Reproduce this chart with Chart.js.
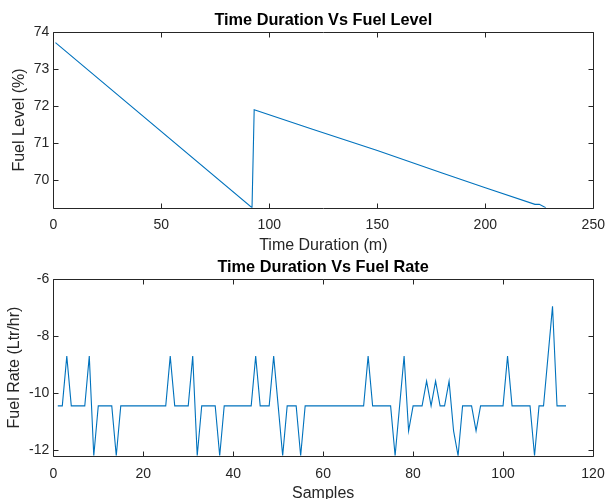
<!DOCTYPE html>
<html>
<head>
<meta charset="utf-8">
<script src="https://cdn.jsdelivr.net/npm/chart.js@4"></script>
<style>
  html, body { margin: 0; padding: 0; background: #fff; overflow: hidden; }
  #wrap { position: relative; width: 606px; height: 499px; }
  canvas { position: absolute; left: 0; top: 0; }
</style>
</head>
<body>
<div id="wrap">
  <canvas id="levelChart" width="606" height="510"></canvas>
  <canvas id="rateChart" width="606" height="510"></canvas>
</div>
<script>
// Fuel level against elapsed time (minutes)
const timeMin   = [1, 92, 93, 120, 150, 180, 200, 223, 225, 228];
const fuelLevel = [73.72, 69.24, 71.9, 71.37, 70.79, 70.18, 69.78, 69.33, 69.33, 69.24];
const timeTicks  = [0, 50, 100, 150, 200, 250];
const levelTicks = [70, 71, 72, 73, 74];

// Fuel rate for each sample (1..114)
const fuelRate = [
  -10.45, -10.45, -8.7, -10.45, -10.45, -10.45, -10.45, -8.7, -12.2, -10.45,
  -10.45, -10.45, -10.45, -12.2, -10.45, -10.45, -10.45, -10.45, -10.45, -10.45,
  -10.45, -10.45, -10.45, -10.45, -10.45, -8.7, -10.45, -10.45, -10.45, -10.45,
  -8.7, -12.2, -10.45, -10.45, -10.45, -10.45, -12.2, -10.45, -10.45, -10.45,
  -10.45, -10.45, -10.45, -10.45, -8.7, -10.45, -10.45, -10.45, -8.7, -10.45,
  -12.2, -10.45, -10.45, -10.45, -12.2, -10.45, -10.45, -10.45, -10.45, -10.45,
  -10.45, -10.45, -10.45, -10.45, -10.45, -10.45, -10.45, -10.45, -10.45, -8.7,
  -10.45, -10.45, -10.45, -10.45, -10.45, -12.2, -10.45, -8.7, -11.33, -10.45,
  -10.45, -10.45, -9.58, -10.45, -9.58, -10.45, -10.45, -9.58, -11.33, -12.2,
  -10.45, -10.45, -10.45, -11.33, -10.45, -10.45, -10.45, -10.45, -10.45, -10.45,
  -8.7, -10.45, -10.45, -10.45, -10.45, -10.45, -12.2, -10.45, -10.45, -8.7,
  -6.95, -10.45, -10.45, -10.45
];
const samples = fuelRate.map((_, i) => i + 1);
const sampleTicks = [0, 20, 40, 60, 80, 100, 120];
const rateTicks   = [-12, -10, -8, -6];

const FONT = 'Liberation Sans, Arial, Helvetica, sans-serif';
const AXIS_COLOR = '#262626';

// Boxed axes with short inward tick marks on all four sides
const axisBox = {
  id: 'axisBox',
  afterDraw(chart) {
    const { ctx, chartArea: a, scales: { x, y } } = chart;
    const len = 5;
    const L = Math.round(a.left) + 0.5, R = Math.round(a.right) + 0.5;
    const T = Math.round(a.top) + 0.5, B = Math.round(a.bottom) + 0.5;
    ctx.save();
    ctx.strokeStyle = AXIS_COLOR;
    ctx.lineWidth = 1;
    ctx.beginPath();
    ctx.rect(L, T, R - L, B - T);
    x.ticks.forEach(t => {
      const px = Math.round(x.getPixelForValue(t.value)) + 0.5;
      ctx.moveTo(px, B); ctx.lineTo(px, B - len);
      ctx.moveTo(px, T); ctx.lineTo(px, T + len);
    });
    y.ticks.forEach(t => {
      const py = Math.round(y.getPixelForValue(t.value)) + 0.5;
      ctx.moveTo(L, py); ctx.lineTo(L + len, py);
      ctx.moveTo(R, py); ctx.lineTo(R - len, py);
    });
    ctx.stroke();
    ctx.restore();
  }
};

const noGrid = { display: false, drawTicks: false };

function makeChart(id, o) {
  return new Chart(document.getElementById(id), {
    type: 'line',
    data: {
      datasets: [{
        data: o.xs.map((v, i) => ({ x: v, y: o.ys[i] })),
        borderColor: '#0072BD',
        borderWidth: 1.1,
        pointRadius: 0,
        tension: 0
      }]
    },
    options: {
      responsive: false,
      animation: false,
      events: [],
      layout: { padding: o.pad },
      plugins: {
        legend: { display: false },
        tooltip: { enabled: false }
      },
      scales: {
        // empty top axis that carries the plot title, centred over the plot box
        head: {
          type: 'linear',
          position: 'top',
          afterFit: s => { s.height = o.headH; s.paddingLeft = 0; s.paddingRight = 0; },
          grid: noGrid,
          border: { display: false },
          ticks: { display: false },
          title: {
            display: true, text: o.title, color: '#000',
            font: { family: FONT, size: 16.3, weight: 'bold' },
            padding: { top: o.headPad, bottom: 0 }
          }
        },
        x: {
          type: 'linear',
          min: o.xMin, max: o.xMax,
          afterBuildTicks: s => { s.ticks = o.xTicks.map(v => ({ value: v })); },
          afterFit: s => { s.height = o.xH; s.paddingLeft = 0; s.paddingRight = 0; },
          grid: noGrid,
          border: { display: false },
          ticks: { padding: o.xTickPad, color: AXIS_COLOR, font: { family: FONT, size: 14 }, maxRotation: 0 },
          title: {
            display: true, text: o.xLabel, color: AXIS_COLOR,
            font: { family: FONT, size: 16 },
            padding: { top: 0, bottom: o.xTitlePad }
          }
        },
        y: {
          type: 'linear',
          min: o.yMin, max: o.yMax,
          afterBuildTicks: s => { s.ticks = o.yTicks.map(v => ({ value: v })); },
          afterFit: s => { s.width = 53.3; s.paddingTop = 0; s.paddingBottom = 0; },
          grid: noGrid,
          border: { display: false },
          ticks: { padding: 4, color: AXIS_COLOR, font: { family: FONT, size: 14 } },
          title: {
            display: true, text: o.yLabel, color: AXIS_COLOR,
            font: { family: FONT, size: 16 },
            padding: { top: o.yTitlePad, bottom: 0 }
          }
        }
      }
    },
    plugins: [axisBox]
  });
}

makeChart('levelChart', {
  title: 'Time Duration Vs Fuel Level',
  xs: timeMin, ys: fuelLevel,
  xMin: 0, xMax: 250, xTicks: timeTicks,
  yMin: 69.24, yMax: 74, yTicks: levelTicks,
  xLabel: 'Time Duration (m)', yLabel: 'Fuel Level (%)',
  pad: { left: 0, right: 12.7, top: 0, bottom: 252 },
  headH: 32.3, headPad: 10.7,
  xH: 50.3, xTickPad: 9.5, xTitlePad: 2.7, yTitlePad: 9.8
});

makeChart('rateChart', {
  title: 'Time Duration Vs Fuel Rate',
  xs: samples, ys: fuelRate,
  xMin: 0, xMax: 120, xTicks: sampleTicks,
  yMin: -12.2, yMax: -6, yTicks: rateTicks,
  xLabel: 'Samples', yLabel: 'Fuel Rate (Ltr/hr)',
  pad: { left: 0, right: 13, top: 250, bottom: 0 },
  headH: 29.3, headPad: 7.9,
  xH: 54.3, xTickPad: 10.5, xTitlePad: 6.6, yTitlePad: 5.2
});
</script>
</body>
</html>
